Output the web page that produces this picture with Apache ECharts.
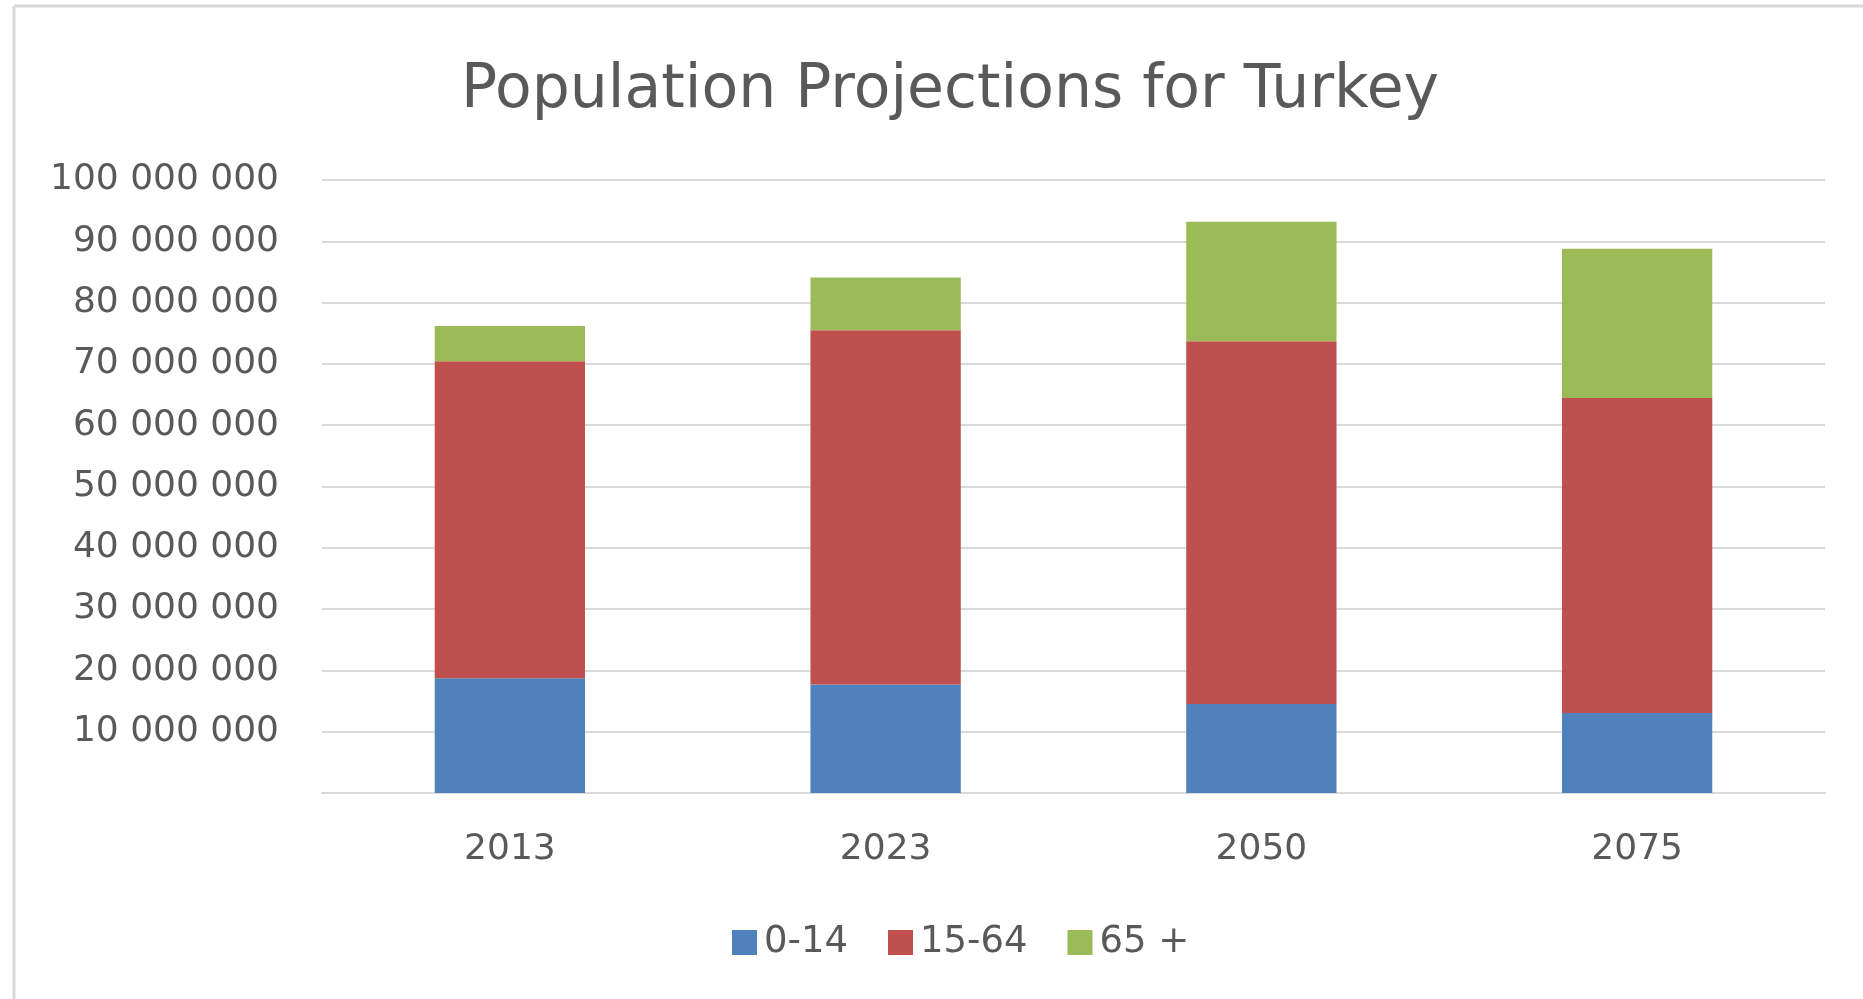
<!DOCTYPE html>
<html>
<head>
<meta charset="utf-8">
<title>Population Projections for Turkey</title>
<script src="https://cdn.jsdelivr.net/npm/echarts@6/dist/echarts.min.js"></script>
<style>
  html, body { margin: 0; padding: 0; background: #fff; }
  #chart { width: 1863px; height: 999px; }
</style>
</head>
<body>
<div id="chart"></div>
<script>
const years = ['2013', '2023', '2050', '2075']
const age0to14 = [18700000, 17700000, 14500000, 13050000]
const age15to64 = [51750000, 57800000, 59200000, 51400000]
const age65plus = [5750000, 8600000, 19500000, 24350000]
const seriesNames = ['0-14', '15-64', '65 +']
const seriesColors = ['#4f81bd', '#c0504d', '#9bbb59']

const textColor = '#595959'
const font = 'DejaVu Sans'

const chart = echarts.init(document.getElementById('chart'))

// thousands with spaces, no label at zero
const fmt = (v) => v === 0 ? '' : String(v).replace(/\B(?=(\d{3})+(?!\d))/g, ' ')

const option = {
  animation: false,
  backgroundColor: '#fff',
  title: {
    text: 'Population Projections for Turkey',
    left: 945,
    top: 56,
    textAlign: 'center',
    textStyle: { color: textColor, fontFamily: font, fontSize: 60, fontWeight: 'normal' }
  },
  legend: {
    data: seriesNames,
    left: 727,
    top: 919,
    itemWidth: 25,
    itemHeight: 25,
    itemGap: 40,
    icon: 'rect',
    textStyle: { color: textColor, fontFamily: font, fontSize: 37, padding: [0, 0, 0, 2] }
  },
  grid: { left: 322, right: 38, top: 180, bottom: 206 },
  xAxis: {
    type: 'category',
    data: years,
    axisLine: { lineStyle: { color: '#d9d9d9', width: 2 } },
    axisTick: { show: false },
    axisLabel: { color: textColor, fontFamily: font, fontSize: 36, margin: 39 }
  },
  yAxis: {
    type: 'value',
    min: 0,
    max: 100000000,
    interval: 10000000,
    axisLine: { show: false },
    axisTick: { show: false },
    axisLabel: { color: textColor, fontFamily: font, fontSize: 36, margin: 43, padding: [4, 0, 0, 0], formatter: fmt },
    splitLine: { lineStyle: { color: '#d9d9d9', width: 2 } }
  },
  series: [
    { name: seriesNames[0], type: 'bar', stack: 'pop', data: age0to14, barWidth: '40%',
      itemStyle: { color: seriesColors[0] } },
    { name: seriesNames[1], type: 'bar', stack: 'pop', data: age15to64, barWidth: '40%',
      itemStyle: { color: seriesColors[1] } },
    { name: seriesNames[2], type: 'bar', stack: 'pop', data: age65plus, barWidth: '40%',
      itemStyle: { color: seriesColors[2] } }
  ],
  graphic: [
    { type: 'line', shape: { x1: 14, y1: 6, x2: 14, y2: 999 }, style: { stroke: '#d9d9d9', lineWidth: 3 } },
    { type: 'line', shape: { x1: 14, y1: 6, x2: 1863, y2: 6 }, style: { stroke: '#d9d9d9', lineWidth: 3 } }
  ]
}

chart.setOption(option)
</script>
</body>
</html>
